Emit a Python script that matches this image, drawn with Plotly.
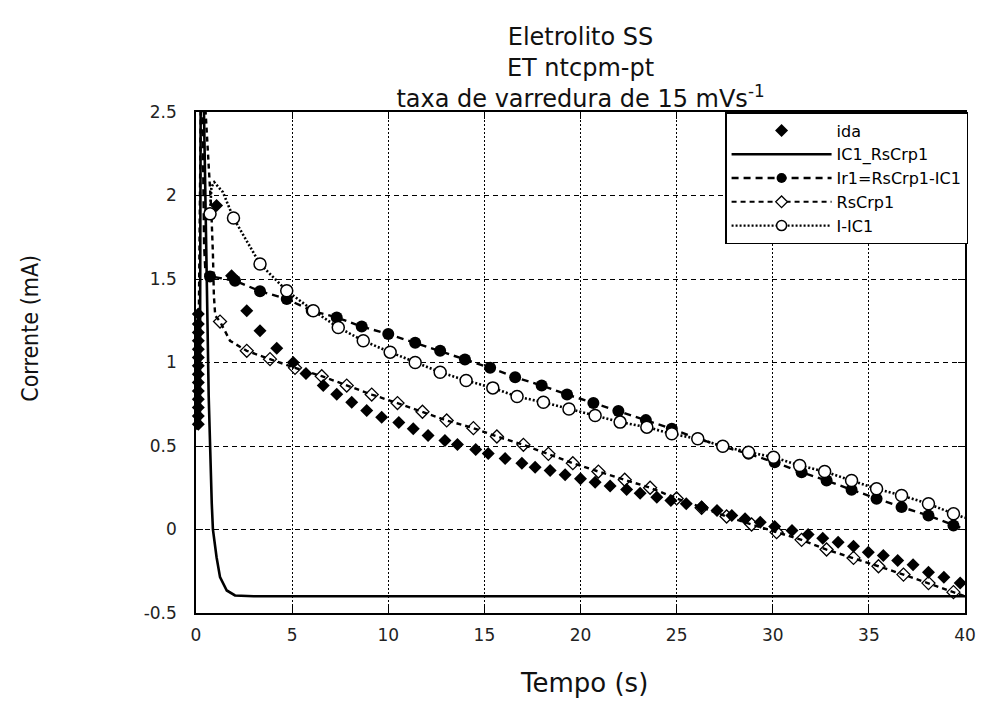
import plotly.graph_objects as go

# ---- data: current (mA) versus time (s) ----
# "ida" (filled diamonds, markers only)
ida_t = [0.12, 0.12, 0.12, 0.12, 0.12, 0.12, 0.12, 0.12, 0.12, 0.12, 0.12, 0.12, 0.12, 0.12,
         1.07, 1.85, 2.64, 3.33, 4.2, 5.06, 5.72, 6.62, 7.32, 8.1, 8.88, 9.66, 10.55, 11.3,
         12.07, 12.95, 13.6, 14.55, 15.2, 16.08, 16.95, 17.64, 18.42, 19.2, 20.0, 20.76,
         21.54, 22.4, 23.1, 23.97, 24.7, 25.5, 26.3, 27.1, 27.87, 28.56, 29.35, 30.1, 31.0,
         31.84, 32.6, 33.4, 34.2, 34.97, 35.75, 36.5, 37.3, 38.1, 38.9, 39.75]
ida_i = [0.63, 0.68, 0.73, 0.78, 0.83, 0.88, 0.93, 0.98, 1.03, 1.08, 1.13, 1.18, 1.23, 1.29,
         1.94, 1.52, 1.31, 1.19, 1.086, 1.0, 0.934, 0.862, 0.81, 0.762, 0.713, 0.672, 0.64, 0.604,
         0.563, 0.533, 0.509, 0.479, 0.455, 0.425, 0.397, 0.373, 0.353, 0.328, 0.304, 0.283,
         0.26, 0.24, 0.217, 0.193, 0.174, 0.154, 0.134, 0.114, 0.084, 0.064, 0.044, 0.018, -0.006,
         -0.03, -0.052, -0.076, -0.1, -0.136, -0.156, -0.186, -0.211, -0.256, -0.286, -0.32]

# "IC1_RsCrp1" (solid line)
ic1_t = [0.0, 0.2, 0.25, 0.3, 0.4, 0.5, 0.57, 0.66, 0.78, 0.82, 0.88, 1.07, 1.25, 1.6, 2.03, 3.0, 40.0]
ic1_i = [0.6, 0.62, 2.9, 2.9, 2.6, 2.0, 1.43, 0.8, 0.23, 0.156, 0.0, -0.166, -0.285, -0.365, -0.395, -0.4, -0.4]

# "Ir1=RsCrp1-IC1" (dashed line, filled circles)
ir1_line_t = [0.3, 0.42, 0.5, 0.73, 2.03, 3.33, 4.72, 6.02, 7.32, 8.62, 10.0, 11.4, 12.7, 13.99,
              15.3, 16.6, 17.98, 19.3, 20.67, 21.97, 23.4, 24.75, 26.1, 27.4, 28.74, 30.1, 31.5,
              32.8, 34.1, 35.4, 36.7, 38.1, 39.4, 40.0]
ir1_line_i = [2.9, 1.7, 1.52, 1.515, 1.49, 1.427, 1.38, 1.31, 1.27, 1.215, 1.17, 1.118, 1.07, 1.018,
              0.968, 0.912, 0.862, 0.808, 0.758, 0.71, 0.655, 0.603, 0.545, 0.497, 0.453, 0.403, 0.343,
              0.293, 0.238, 0.184, 0.134, 0.084, 0.024, 0.0]
ir1_mark_t = [0.73, 2.03, 3.33, 4.72, 6.02, 7.32, 8.62, 10.0, 11.4, 12.7, 13.99, 15.3, 16.6, 17.98,
              19.3, 20.67, 21.97, 23.4, 24.75, 26.1, 27.4, 28.74, 30.1, 31.5, 32.8, 34.1, 35.4,
              36.7, 38.1, 39.4]
ir1_mark_i = [1.515, 1.49, 1.427, 1.38, 1.31, 1.27, 1.215, 1.17, 1.118, 1.07, 1.018, 0.968, 0.912,
              0.862, 0.808, 0.758, 0.71, 0.655, 0.603, 0.545, 0.497, 0.453, 0.403, 0.343, 0.293,
              0.238, 0.184, 0.134, 0.084, 0.024]

# "RsCrp1" (dashed line, open diamonds)
rs_line_t = [0.1, 0.28, 0.5, 0.65, 0.8, 0.88, 0.93, 1.0, 1.25, 1.77, 2.64, 3.85, 5.15, 6.54, 7.84,
             9.14, 10.48, 11.78, 13.04, 14.43, 15.65, 17.03, 18.33, 19.6, 20.93, 22.3, 23.62,
             25.0, 26.3, 27.6, 28.9, 30.2, 31.5, 32.8, 34.2, 35.5, 36.8, 38.1, 39.4, 40.0]
rs_line_i = [0.7, 2.9, 2.5, 2.2, 1.9, 1.65, 1.4, 1.28, 1.245, 1.13, 1.07, 1.02, 0.968, 0.918, 0.862,
             0.808, 0.757, 0.705, 0.653, 0.607, 0.557, 0.507, 0.453, 0.397, 0.347, 0.298, 0.25,
             0.186, 0.13, 0.078, 0.03, -0.016, -0.062, -0.12, -0.17, -0.22, -0.27, -0.321, -0.375, -0.4]
rs_mark_t = [1.25, 2.64, 3.85, 5.15, 6.54, 7.84, 9.14, 10.48, 11.78, 13.04, 14.43, 15.65, 17.03,
             18.33, 19.6, 20.93, 22.3, 23.62, 25.0, 26.3, 27.6, 28.9, 30.2, 31.5, 32.8, 34.2,
             35.5, 36.8, 38.1, 39.4]
rs_mark_i = [1.245, 1.07, 1.02, 0.968, 0.918, 0.862, 0.808, 0.757, 0.705, 0.653, 0.607, 0.557,
             0.507, 0.453, 0.397, 0.347, 0.298, 0.25, 0.186, 0.13, 0.078, 0.03, -0.016, -0.062,
             -0.12, -0.17, -0.22, -0.27, -0.321, -0.375]

# "I-IC1" (dotted line, open circles)
iic_line_t = [0.73, 0.8, 0.95, 1.1, 1.4, 1.95, 3.33, 4.72, 6.1, 7.4, 8.7, 10.1, 11.4, 12.7, 14.05,
              15.44, 16.7, 18.07, 19.4, 20.76, 22.06, 23.45, 24.75, 26.1, 27.4, 28.74, 30.04,
              31.4, 32.7, 34.1, 35.4, 36.7, 38.1, 39.4, 40.0]
iic_line_i = [1.89, 2.05, 2.08, 2.06, 2.02, 1.865, 1.59, 1.43, 1.31, 1.21, 1.13, 1.062, 1.0, 0.942,
              0.892, 0.848, 0.796, 0.762, 0.722, 0.683, 0.643, 0.613, 0.573, 0.543, 0.499, 0.463,
              0.433, 0.383, 0.347, 0.293, 0.244, 0.204, 0.154, 0.094, 0.07]
iic_mark_t = [0.73, 1.95, 3.33, 4.72, 6.1, 7.4, 8.7, 10.1, 11.4, 12.7, 14.05, 15.44, 16.7, 18.07,
              19.4, 20.76, 22.06, 23.45, 24.75, 26.1, 27.4, 28.74, 30.04, 31.4, 32.7, 34.1,
              35.4, 36.7, 38.1, 39.4]
iic_mark_i = [1.89, 1.865, 1.59, 1.43, 1.31, 1.21, 1.13, 1.062, 1.0, 0.942, 0.892, 0.848, 0.796,
              0.762, 0.722, 0.683, 0.643, 0.613, 0.573, 0.543, 0.499, 0.463, 0.433, 0.383, 0.347,
              0.293, 0.244, 0.204, 0.154, 0.094]

x_ticks = [0, 5, 10, 15, 20, 25, 30, 35, 40]
y_ticks = [-0.5, 0, 0.5, 1, 1.5, 2, 2.5]
y_tick_labels = ["-0.5", "0", "0.5", "1", "1.5", "2", "2.5"]

BLACK = "black"
FONT = "DejaVu Sans, Liberation Sans, Arial, sans-serif"
NARROW = "DejaVu Sans Condensed, Liberation Sans Narrow, Liberation Sans, sans-serif"

fig = go.Figure()

# plotted curves (legend entries are added separately below)
fig.add_trace(go.Scatter(x=ida_t, y=ida_i, mode="markers", showlegend=False, cliponaxis=False,
                         marker=dict(symbol="diamond", size=10, color=BLACK)))
fig.add_trace(go.Scatter(x=ic1_t, y=ic1_i, mode="lines", showlegend=False,
                         line=dict(color=BLACK, width=2.6)))
fig.add_trace(go.Scatter(x=ir1_line_t, y=ir1_line_i, mode="lines", showlegend=False,
                         line=dict(color=BLACK, width=2.4, dash="7px,5px")))
fig.add_trace(go.Scatter(x=ir1_mark_t, y=ir1_mark_i, mode="markers", showlegend=False,
                         marker=dict(symbol="circle", size=12, color=BLACK)))
fig.add_trace(go.Scatter(x=rs_line_t, y=rs_line_i, mode="lines", showlegend=False,
                         line=dict(color=BLACK, width=2.4, dash="5px,4px")))
fig.add_trace(go.Scatter(x=rs_mark_t, y=rs_mark_i, mode="markers", showlegend=False,
                         marker=dict(symbol="diamond-open", size=10, color=BLACK,
                                     line=dict(width=1.3, color=BLACK))))
fig.add_trace(go.Scatter(x=iic_line_t, y=iic_line_i, mode="lines", showlegend=False,
                         line=dict(color=BLACK, width=2.6, dash="2px,2px")))
fig.add_trace(go.Scatter(x=iic_mark_t, y=iic_mark_i, mode="markers", showlegend=False,
                         marker=dict(symbol="circle", size=12, color="white",
                                     line=dict(width=1.5, color=BLACK))))

# legend keys
legend_keys = [
    ("ida", "markers", None, dict(symbol="diamond", size=10, color=BLACK)),
    ("IC1_RsCrp1", "lines", dict(color=BLACK, width=2.4), None),
    ("Ir1=RsCrp1-IC1", "lines+markers", dict(color=BLACK, width=2.4, dash="7px,5px"),
     dict(symbol="circle", size=10, color=BLACK)),
    ("RsCrp1", "lines+markers", dict(color=BLACK, width=2.0, dash="5px,4px"),
     dict(symbol="diamond", size=9, color="white", line=dict(width=1.3, color=BLACK))),
    ("I-IC1", "lines+markers", dict(color=BLACK, width=2.2, dash="2px,2px"),
     dict(symbol="circle", size=10, color="white", line=dict(width=1.5, color=BLACK))),
]
for name, mode, line, marker in legend_keys:
    kw = dict(x=[None], y=[None], mode=mode, name=name)
    if line:
        kw["line"] = line
    if marker:
        kw["marker"] = marker
    fig.add_trace(go.Scatter(**kw))

fig.update_layout(
    width=982, height=702,
    margin=dict(l=196, r=17, t=112, b=89),
    paper_bgcolor="white", plot_bgcolor="white",
    font=dict(family=FONT, color=BLACK),
    title=dict(
        text="Eletrolito SS<br>ET ntcpm-pt<br>taxa de varredura de 15 mVs<sup>-1</sup>",
        x=0.5, xref="paper", xanchor="center",
        y=1 - 45 / 702, yref="container", yanchor="top",
        font=dict(size=24, family=FONT, color="#111"),
    ),
    legend=dict(
        x=1.004, y=1.0, xanchor="right", yanchor="top",
        bgcolor="white", bordercolor=BLACK, borderwidth=1.5,
        font=dict(size=16, family=FONT, color=BLACK),
        itemwidth=100, tracegroupgap=0,
    ),
    showlegend=True,
    annotations=[
        dict(text="Corrente (mA)", textangle=-90, showarrow=False,
             xref="paper", yref="paper", x=-0.216, y=0.569,
             xanchor="center", yanchor="middle",
             font=dict(size=23, family=NARROW, color="#111")),
        dict(text="Tempo (s)", showarrow=False,
             xref="paper", yref="paper", x=0.505, y=-0.14,
             xanchor="center", yanchor="middle",
             font=dict(size=26, family=FONT, color="#111")),
    ],
)

fig.update_xaxes(
    range=[0, 40], tickmode="array", tickvals=x_ticks, automargin=False,
    ticks="inside", ticklen=7, tickwidth=1.2, tickcolor=BLACK,
    showline=True, linecolor=BLACK, linewidth=1.5, mirror="ticks",
    showgrid=True, gridcolor=BLACK, gridwidth=1.3, griddash="2px,2px",
    zeroline=False,
    tickfont=dict(size=17, family=FONT, color="#222"),
    ticklabelstandoff=6,
)
fig.update_yaxes(
    range=[-0.5, 2.5], tickmode="array", tickvals=y_ticks, ticktext=y_tick_labels,
    automargin=False,
    ticks="inside", ticklen=7, tickwidth=1.2, tickcolor=BLACK,
    showline=True, linecolor=BLACK, linewidth=1.5, mirror="ticks",
    showgrid=True, gridcolor=BLACK, gridwidth=1.3, griddash="5px,4px",
    zeroline=False,
    tickfont=dict(size=17, family=FONT, color="#222"),
    ticklabelstandoff=14,
)

fig.write_html("out.html")
